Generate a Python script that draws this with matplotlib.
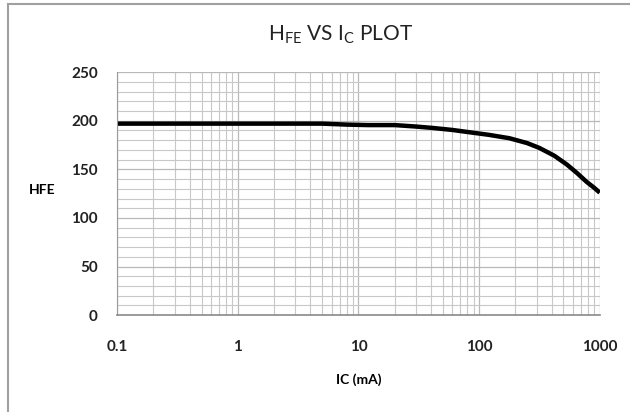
import matplotlib
matplotlib.use('Agg')
import matplotlib.pyplot as plt
from matplotlib.lines import Line2D

plt.rcParams['font.family'] = ['Lato', 'DejaVu Sans']
plt.rcParams['mathtext.fontset'] = 'custom'
plt.rcParams['mathtext.rm'] = 'Lato'
plt.rcParams['mathtext.it'] = 'Lato'

# Valores
ic_ma = [0.1, 0.3, 1, 3, 5, 8, 12, 20, 30, 41, 60, 79, 120, 178, 250, 316, 420, 533, 650, 780, 900, 1000]
hfe = [197, 197, 197, 197, 197, 196, 195.5, 195.5, 194, 192.6, 190.5, 188.5, 185.5, 182, 177, 172, 164, 155, 146, 137, 131, 126]

x_ticks = [0.1, 1, 10, 100, 1000]
x_labels = ['0.1', '1', '10', '100', '1000']
y_ticks = [0, 50, 100, 150, 200, 250]

fig = plt.figure(figsize=(6.3, 4.12), dpi=100)
ax = fig.add_axes([0.186, 0.235, 0.766, 0.59])

ax.plot(ic_ma, hfe, color='black', linewidth=3.2, solid_capstyle='butt')

ax.set_xscale('log')
ax.set_xlim(0.1, 1000)
ax.set_ylim(0, 250)
ax.set_xticks(x_ticks)
ax.set_xticklabels(x_labels)
ax.set_yticks(y_ticks)
ax.set_yticks(range(0, 251, 10), minor=True)

# grade
ax.grid(True, which='major', color='#b8b8b8', linewidth=0.9)
ax.grid(True, which='minor', color='#c8c8c8', linewidth=0.8)
ax.set_axisbelow(True)

for s in ['top', 'right']:
    ax.spines[s].set_visible(False)
ax.spines['left'].set_color('#9a9a9a')
ax.spines['bottom'].set_color('#8a8a8a')
ax.spines['bottom'].set_linewidth(1.2)
ax.tick_params(which='both', length=0)
ax.tick_params(axis='x', pad=18, labelsize=11, labelcolor='#222222')
ax.tick_params(axis='y', pad=14, labelsize=11, labelcolor='#222222')
for lab in ax.get_xticklabels() + ax.get_yticklabels():
    lab.set_fontweight('bold')

ax.set_xlabel('IC (mA)', fontsize=10, fontweight='bold', labelpad=14)
ax.set_ylabel('HFE', fontsize=10, fontweight='bold', rotation=0, labelpad=0)
ax.yaxis.set_label_coords(-0.155, 0.49)

fig.text(0.54, 0.915, r'H$_{\mathrm{FE}}$ VS I$_{\mathrm{C}}$ PLOT', fontsize=15,
         ha='center', va='center', color='#222222')

# moldura do grafico
fig.add_artist(Line2D([0.013, 0.013], [0.0, 0.99], transform=fig.transFigure, color='#a0a0a0', linewidth=1.5))
fig.add_artist(Line2D([0.013, 1.0], [0.99, 0.99], transform=fig.transFigure, color='#a0a0a0', linewidth=1.5))

fig.savefig('out.png', dpi=100)
